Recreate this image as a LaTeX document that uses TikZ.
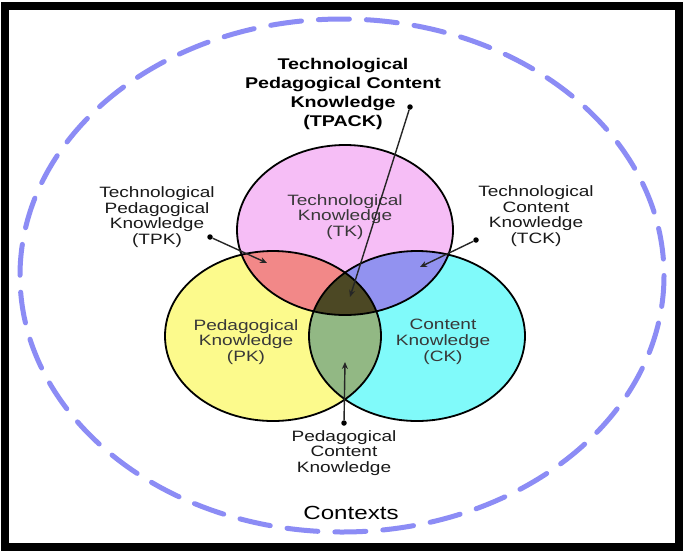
\documentclass[tikz,border=0pt]{standalone}
\usepackage{fontspec}
\setmainfont{Liberation Sans}[FakeStretch=1.27]
\usetikzlibrary{arrows.meta}
\definecolor{tkc}{RGB}{246,190,246}
\definecolor{pkc}{RGB}{252,250,140}
\definecolor{ckc}{RGB}{128,250,250}
\definecolor{tpkc}{RGB}{242,136,136}
\definecolor{tckc}{RGB}{146,146,240}
\definecolor{pckc}{RGB}{146,184,132}
\definecolor{tpackc}{RGB}{76,72,36}
\definecolor{ctxc}{RGB}{140,140,245}
\begin{document}
\begin{tikzpicture}[x=1pt,y=-1pt]
\tikzset{
  lbl/.style={align=center, font=\fontsize{15}{15.7}\selectfont, text=black!90, inner sep=0pt},
  inlbl/.style={lbl, text=black!78},
  ptr/.style={draw=black!85, line width=1.4, -{Stealth[length=7,width=6]}},
  dotc/.style={circle, fill=black, inner sep=0pt, minimum size=5.5},
  ring/.style={draw=black, line width=1.8},
}
\useasboundingbox (0,0) rectangle (685,555);
\fill[white] (0,0) rectangle (685,555);
% frame
\draw[line width=8] (5,5.5) rectangle (679,547);
% contexts ellipse
\draw[ctxc, line width=5, line cap=round, dash pattern=on 31 off 17] (342,275.5) ellipse [x radius=322, y radius=256.5];
% base fills
\def\tkpath{(345,230) ellipse [x radius=108, y radius=85]}
\def\pkpath{(273,336) ellipse [x radius=108, y radius=85]}
\def\ckpath{(417,336) ellipse [x radius=108, y radius=85]}
\fill[tkc] \tkpath;
\fill[pkc] \pkpath;
\fill[ckc] \ckpath;
\begin{scope}\clip \tkpath; \fill[tpkc] \pkpath; \fill[tckc] \ckpath; \end{scope}
\begin{scope}\clip \pkpath; \fill[pckc] \ckpath; \end{scope}
\begin{scope}\clip \tkpath; \clip \pkpath; \fill[tpackc] \ckpath; \end{scope}
\draw[ring] \tkpath;
\draw[ring] \pkpath;
\draw[ring] \ckpath;
% labels
\node[align=center, font=\bfseries\fontsize{15.5}{18.7}\selectfont, inner sep=0pt] (ttpack) at (343,94) {Technological\\Pedagogical Content\\Knowledge\\(TPACK)};
\node[inlbl] (ltk) at (345,217) {Technological\\Knowledge\\(TK)};
\node[inlbl] (lpk) at (246,342) {Pedagogical\\Knowledge\\(PK)};
\node[inlbl] (lck) at (443,342) {Content\\Knowledge\\(CK)};
\node[lbl] (ltpk) at (157,217) {Technological\\Pedagogical\\Knowledge\\(TPK)};
\node[lbl] (ltck) at (536,216) {Technological\\Content\\Knowledge\\(TCK)};
\node[lbl] (lpck) at (344,453) {Pedagogical\\Content\\Knowledge};
\node[inner sep=0pt, font=\fontsize{19}{20}\selectfont] (lctx) at (351,513) {Contexts};
% pointers
\node[dotc] (dtpack) at (410,107) {};
\coordinate (atpack) at (350,297);
\draw[ptr] (dtpack) -- (atpack);
\node[dotc] (dtpk) at (210,237) {};
\coordinate (atpk) at (267,263);
\draw[ptr] (dtpk) -- (atpk);
\node[dotc] (dtck) at (476,240) {};
\coordinate (atck) at (420,267);
\draw[ptr] (dtck) -- (atck);
\node[dotc] (dpck) at (344,423) {};
\coordinate (apck) at (345,362);
\draw[ptr] (dpck) -- (apck);
\end{tikzpicture}
\end{document}
